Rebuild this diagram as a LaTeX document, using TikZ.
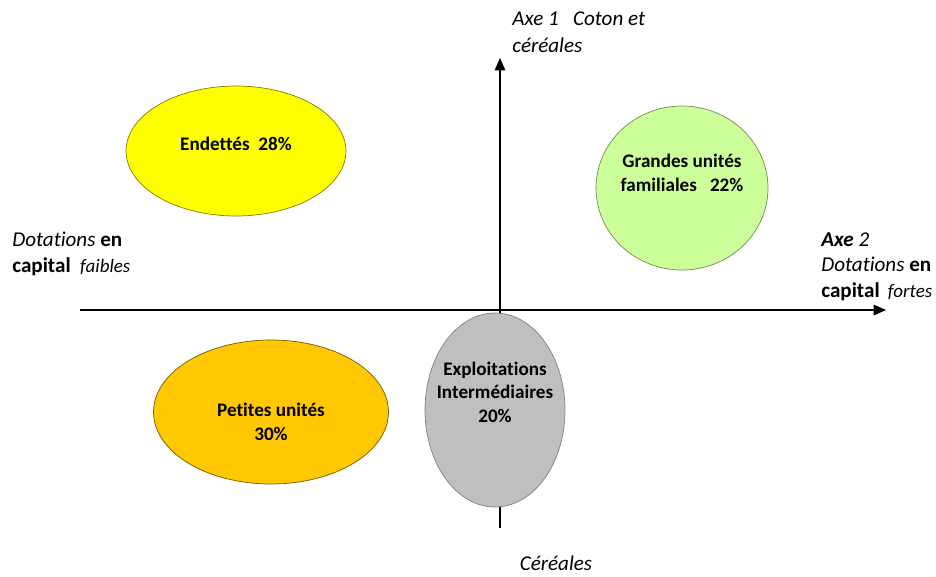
\documentclass[tikz,border=0pt]{standalone}
\usepackage{fontspec}
\setmainfont[Ligatures={NoCommon}]{Carlito}
\usetikzlibrary{shapes.geometric,positioning,arrows.meta}

\definecolor{jaune}{HTML}{FFFF00}
\definecolor{vertclair}{HTML}{CCFF99}
\definecolor{orangeor}{HTML}{FFC800}
\definecolor{grismoyen}{HTML}{BFBFBF}

\begin{document}
\begin{tikzpicture}[
    x=0.02cm, y=-0.02cm,
    grp/.style={ellipse, draw, thin, inner sep=0pt},
    grptxt/.style={font=\fontsize{10.9}{13.3}\selectfont\bfseries, align=center, inner sep=0pt},
    axtxt/.style={font=\fontsize{12}{14.7}\selectfont\itshape, align=left, inner sep=0pt, anchor=north west},
    arr/.style={-{Triangle[length=7pt,width=6pt]}, semithick}
]
    \useasboundingbox (0,0) rectangle (936,576);

    % Axes
    \coordinate (hstart) at (80,310);
    \coordinate (hend) at (886,310);
    \coordinate (vstart) at (500,528);
    \coordinate (vend) at (500,58);
    \draw[arr] (hstart) -- (hend);
    \draw[arr] (vstart) -- (vend);

    % Groups (ellipses)
    \node[grp, fill=jaune, draw=black!50!jaune, minimum width=4.4cm, minimum height=2.6cm] (endettes) at (236,151) {};
    \node[grp, fill=vertclair, draw=black!45!vertclair, minimum width=3.44cm, minimum height=3.28cm] (grandes) at (682,188) {};
    \node[grp, fill=orangeor, draw=black!55!orangeor, minimum width=4.7cm, minimum height=2.88cm] (petites) at (271,412) {};
    \node[grp, fill=grismoyen, draw=black!50, minimum width=2.8cm, minimum height=3.88cm] (inter) at (495,410) {};

    % Group labels
    \node[grptxt] (endettestxt) at ([yshift=0.14cm]endettes.center) {Endettés~~28\%};
    \node[grptxt] (grandestxt) at ([yshift=0.3cm]grandes.center) {Grandes unités\\familiales~~~22\%};
    \node[grptxt] (petitestxt) at ([yshift=-0.2cm]petites.center) {Petites unités\\30\%};
    \node[grptxt] (intertxt) at ([yshift=0.36cm]inter.center) {Exploitations\\Intermédiaires\\20\%};

    % Axis labels
    \node[axtxt] (faibles) at (12,232) {Dotations \textbf{\upshape en}\\\textbf{\upshape capital}~ {\fontsize{10.8}{14.7}\selectfont faibles}};
    \node[axtxt] (fortes) at (821,232) {\textbf{Axe} 2\\Dotations \textbf{\upshape en}\\\textbf{\upshape capital}\, {\fontsize{10.8}{14.7}\selectfont fortes}};
    \node[axtxt] (axe1) at (512,11) {Axe 1~~ Coton et\\[1pt]céréales};
    \node[axtxt, anchor=north] (cereales) at (556,555) {Céréales};
\end{tikzpicture}
\end{document}
